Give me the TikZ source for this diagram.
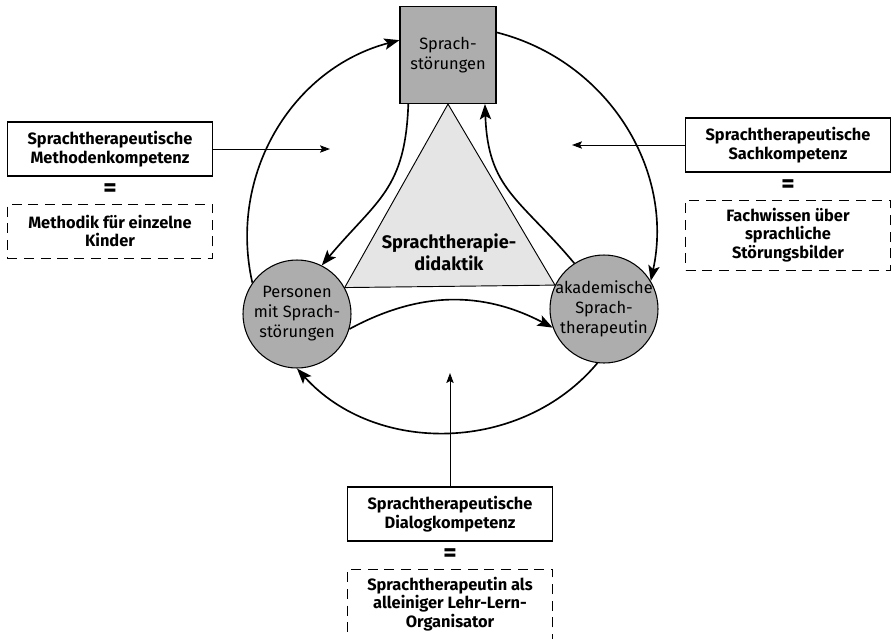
\documentclass[tikz,border=0pt]{standalone}
\usepackage{fontspec}
\setmainfont{Fira Sans}
\usetikzlibrary{arrows.meta,positioning,calc}
\definecolor{stipple}{gray}{0.68}
\definecolor{lightstipple}{gray}{0.9}

\begin{document}
\begin{tikzpicture}[x=0.3mm,y=0.3mm,node distance=8.1mm,>={Stealth[length=4.6mm,width=3.4mm,inset=1mm]}, every node/.style={font=\fontsize{14}{16}\selectfont}]
\tikzstyle{kbox}=[draw, line width=0.9pt, minimum width=61.5mm, minimum height=16.2mm, align=center, font=\fontsize{14}{16}\selectfont\bfseries]
\tikzstyle{dbox}=[kbox, dash pattern=on 3mm off 2mm]
\tikzstyle{pole}=[draw, circle, fill=stipple, line width=0.9pt, minimum size=32.4mm, inner sep=0pt]
\tikzstyle{poletxt}=[align=center, font=\fontsize{14}{17}\selectfont]
\tikzstyle{cyc}=[->, line width=1.4pt]
\tikzstyle{hint}=[-{Stealth[length=3mm,width=2.2mm,inset=0.6mm]}, line width=0.8pt]
\tikzstyle{eqs}=[inner sep=0pt, font=\fontsize{22}{22}\selectfont\bfseries]
\useasboundingbox (0,0) rectangle (891,-639);
\node[draw, fill=stipple, line width=0.9pt, minimum width=28.8mm, minimum height=29.1mm, align=center, font=\fontsize{14}{17}\selectfont] (sq) at (448,-55) {Sprach-\\störungen};
\node[pole] (per) at (297,-314) {};
\node[pole] (aka) at (604,-309) {};
\draw[fill=lightstipple, line width=0.8pt] (sq.south) -- (per.29) -- (aka.154) -- cycle;
\node[poletxt] (pertxt) at (per) {Personen\\mit Sprach-\\störungen};
\node[poletxt] (akatxt) at (aka) {akademische\\Sprach-\\therapeutin};
\node[align=center, font=\fontsize{15.5}{19}\selectfont\bfseries] (did) at (449,-252) {Sprachtherapie-\\didaktik};
\draw[cyc] (per.145) to[bend left=44] (sq.163);
\draw[cyc] (sq.25) to[bend left=44] (aka.31);
\draw[cyc] (aka.-97) to[bend left=49] (per.-90);
\draw[cyc] (sq.-129) to[out=-92,in=50,looseness=1.2] (per.63);
\draw[cyc] (aka.123) to[out=130,in=-88,looseness=1.2] (sq.-53);
\draw[cyc] (per.-16) to[bend left=28] (aka.200);
\node[kbox] (mk) at (110,-149) {Sprachtherapeutische\\Methodenkompetenz};
\node[dbox, below=of mk] (mkd) {Methodik für einzelne\\Kinder};
\node[eqs] (eq1) at ($(mk.south)!0.5!(mkd.north)$) {=};
\node[kbox] (sk) at (788,-145) {Sprachtherapeutische\\Sachkompetenz};
\node[dbox, minimum height=21mm, below=of sk] (skd) {Fachwissen über\\sprachliche\\Störungsbilder};
\node[eqs] (eq2) at ($(sk.south)!0.5!(skd.north)$) {=};
\node[kbox] (dk) at (450,-514) {Sprachtherapeutische\\Dialogkompetenz};
\node[dbox, minimum height=21mm, below=of dk] (dkd) {Sprachtherapeutin als\\alleiniger Lehr-Lern-\\Organisator};
\node[eqs] (eq3) at ($(dk.south)!0.5!(dkd.north)$) {=};
\coordinate (mkend) at (330,-149);
\coordinate (skend) at (572,-145);
\coordinate (dkend) at (450,-373);
\draw[hint] (mk.east) -- (mkend);
\draw[hint] (sk.west) -- (skend);
\draw[hint] (dk.north) -- (dkend);
\end{tikzpicture}
\end{document}
